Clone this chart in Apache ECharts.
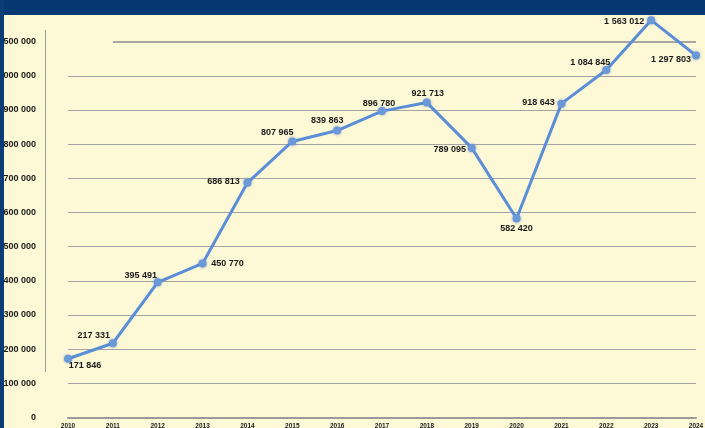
<!DOCTYPE html>
<html>
<head>
<meta charset="utf-8">
<script src="https://cdn.jsdelivr.net/npm/echarts@6/dist/echarts.min.js"></script>
<style>
    html, body { margin: 0; padding: 0; background: #fdf8d6; }
    #chart { width: 705px; height: 428px; }
</style>
</head>
<body>
<div id="chart"></div>
<script>
// chart data
var years = ["2010", "2011", "2012", "2013", "2014", "2015", "2016", "2017",
    "2018", "2019", "2020", "2021", "2022", "2023", "2024"];
var values = [171846, 217331, 395491, 450770, 686813, 807965, 839863, 896780,
    921713, 789095, 582420, 918643, 1084845, 1563012, 1297803];
// the y axis is broken between these two values
var breakStart = 1000000;
var breakEnd = 1500000;

// where each value label sits relative to its point (px)
var labelOffsets = [[17, 7], [-19, -8], [-17, -7], [25, 0], [-24, -1], [-15, -9],
    [-10, -10], [-3, -8], [1, -9], [-22, 2], [0, 10], [-23, -1], [-16, -8],
    [-27, 1], [-25, 4]];

function fmt(v) {
    return String(v).replace(/\B(?=(\d{3})+(?!\d))/g, " ");
}

var chart = echarts.init(document.getElementById("chart"));

chart.setOption({
    backgroundColor: "#fdf8d6",
    animation: false,
    textStyle: { fontFamily: "Arial, 'Liberation Sans', sans-serif" },
    grid: {
        left: 68,
        right: 9,
        top: 7.5,
        bottom: 10.5,
        outerBoundsMode: "none"
    },
    xAxis: {
        type: "category",
        data: years,
        boundaryGap: false,
        axisTick: { show: false },
        axisLine: { show: true, lineStyle: { color: "#9a9a9a", width: 2 } },
        axisLabel: {
            fontSize: 6.5,
            fontWeight: "bold",
            color: "#1a1a1a",
            margin: 5
        }
    },
    yAxis: {
        type: "value",
        min: 0,
        max: 1600000,
        interval: 100000,
        breaks: [{ start: breakStart, end: breakEnd, gap: 100000 }],
        breakArea: {
            show: false,
            itemStyle: { color: "rgba(0,0,0,0)", borderWidth: 0 }
        },
        axisLine: { show: false },
        axisTick: { show: false },
        axisLabel: {
            margin: 32,
            fontSize: 9,
            fontWeight: "bold",
            color: "#1a1a1a",
            formatter: fmt
        },
        splitLine: { lineStyle: { color: "#a3a3a3", width: 1 } }
    },
    graphic: [
        { type: "rect", z: 100, shape: { x: 0, y: 0, width: 705, height: 15 }, style: { fill: "#053873" } },
        { type: "rect", z: 100, shape: { x: 0, y: 0, width: 4, height: 428 }, style: { fill: "#0a3c78" } },
        { type: "line", z: 50, shape: { x1: 45.5, y1: 30, x2: 45.5, y2: 372 }, style: { stroke: "#9a9a9a", lineWidth: 1 } }
    ],
    series: [
        {
            type: "line",
            data: values.map(function (v, i) {
                return {
                    value: v,
                    label: { offset: labelOffsets[i] }
                };
            }),
            clip: false,
            symbol: "circle",
            symbolSize: 8,
            itemStyle: {
                color: "#6b98d8",
                shadowColor: "rgba(80,120,190,0.6)",
                shadowBlur: 3
            },
            lineStyle: { color: "#5a8ed7", width: 3 },
            label: {
                show: true,
                position: "inside",
                fontSize: 9,
                fontWeight: "bold",
                color: "#1a1a1a",
                formatter: function (p) { return fmt(p.value); }
            },
            // grid lines on both edges of the axis break
            markLine: {
                silent: true,
                symbol: "none",
                label: { show: false },
                z: 1,
                data: [
                    [{ xAxis: "2010", yAxis: breakStart }, { xAxis: "2024", yAxis: breakStart,
                        lineStyle: { color: "#a3a3a3", width: 1, type: "solid" } }],
                    [{ xAxis: "2011", yAxis: breakEnd }, { xAxis: "2024", yAxis: breakEnd,
                        lineStyle: { color: "#8c8c8c", width: 1.5, type: "solid" } }]
                ]
            }
        }
    ]
});
</script>
</body>
</html>
